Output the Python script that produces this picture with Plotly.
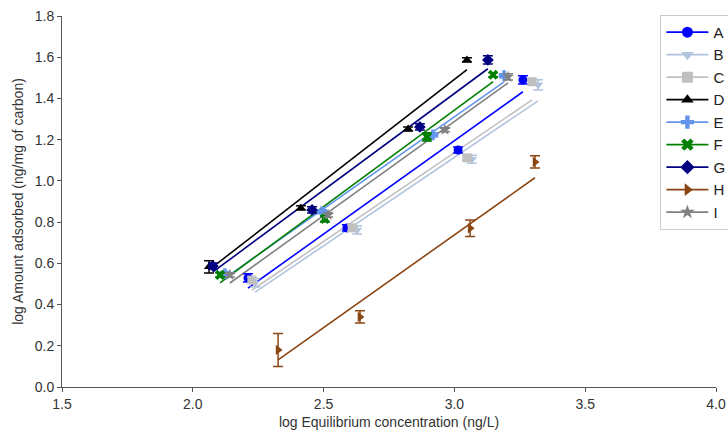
import plotly.graph_objects as go

names = ["A", "B", "C", "D", "E", "F", "G", "H", "I"]
colors = ["#0000ff", "#b0c4de", "#c0c0c0", "#000000", "#6495ed", "#008000", "#000080", "#8b4513", "#808080"]
symbols = ["circle", "triangle-down", "square", "triangle-up", "cross", "x", "diamond", "triangle-right", "star"]

x_A = [2.211, 2.589, 3.014, 3.262]; y_A = [0.529, 0.772, 1.150, 1.490]; e_A = [0.02, 0.015, 0.015, 0.02]
x_B = [2.238, 2.628, 3.067, 3.320]; y_B = [0.505, 0.762, 1.105, 1.466]; e_B = [0.02, 0.02, 0.02, 0.025]
x_C = [2.226, 2.609, 3.048, 3.297]; y_C = [0.519, 0.772, 1.112, 1.481]; e_C = [0.015, 0.015, 0.015, 0.015]
x_D = [2.062, 2.413, 2.823, 3.048]; y_D = [0.583, 0.869, 1.252, 1.587]; e_D = [0.03, 0.01, 0.01, 0.01]
x_E = [2.123, 2.494, 2.918, 3.190]; y_E = [0.550, 0.850, 1.223, 1.510]; e_E = [0.01, 0.01, 0.01, 0.01]
x_F = [2.104, 2.505, 2.895, 3.148]; y_F = [0.544, 0.816, 1.214, 1.515]; e_F = [0.01, 0.015, 0.02, 0.01]
x_G = [2.077, 2.456, 2.868, 3.128]; y_G = [0.587, 0.859, 1.262, 1.587]; e_G = [0.015, 0.015, 0.015, 0.02]
x_H = [2.326, 2.639, 3.060, 3.308]; y_H = [0.180, 0.340, 0.770, 1.092]; e_H = [0.08, 0.03, 0.04, 0.03]
x_I = [2.142, 2.517, 2.964, 3.205]; y_I = [0.544, 0.835, 1.248, 1.505]; e_I = [0.01, 0.01, 0.01, 0.015]

# fitted regression lines (slope, intercept) per series
slopes = [0.906, 0.858, 0.862, 0.985, 0.892, 0.935, 0.938, 0.900, 0.913]
intercepts = [-1.523, -1.460, -1.449, -1.463, -1.365, -1.462, -1.390, -1.962, -1.451]

xs = [x_A, x_B, x_C, x_D, x_E, x_F, x_G, x_H, x_I]
ys = [y_A, y_B, y_C, y_D, y_E, y_F, y_G, y_H, y_I]
es = [e_A, e_B, e_C, e_D, e_E, e_F, e_G, e_H, e_I]

fig = go.Figure()
for i, n in enumerate(names):
    x0, x1 = min(xs[i]), max(xs[i])
    fig.add_trace(go.Scatter(
        x=[x0, x1], y=[slopes[i] * x0 + intercepts[i], slopes[i] * x1 + intercepts[i]],
        mode="lines", line=dict(color=colors[i], width=1.6),
        showlegend=False, legendgroup=n, hoverinfo="skip"))
for i, n in enumerate(names):
    fig.add_trace(go.Scatter(
        x=xs[i], y=ys[i], mode="markers",
        marker=dict(symbol=symbols[i], color=colors[i], size=9, line=dict(width=0)),
        error_y=dict(type="data", array=es[i], color=colors[i], thickness=1.5, width=5),
        showlegend=False, legendgroup=n))
for i, n in enumerate(names):
    fig.add_trace(go.Scatter(
        x=[None], y=[None], mode="lines+markers", name=n, legendgroup=n,
        line=dict(color=colors[i], width=1.6),
        marker=dict(symbol=symbols[i], color=colors[i], size=11, line=dict(width=0))))

axis_common = dict(
    showline=True, linecolor="#555555", linewidth=1, mirror=False,
    showgrid=False, zeroline=False, ticks="outside", ticklen=4, tickcolor="#555555",
    tickfont=dict(size=14, color="#333333"),
    title_font=dict(size=14, color="#333333"))

fig.update_layout(
    width=728, height=435,
    margin=dict(l=62, r=12, t=16, b=48, autoexpand=False),
    paper_bgcolor="white", plot_bgcolor="white",
    font=dict(family="Liberation Sans, Arial, sans-serif", color="#333333"),
    xaxis=dict(range=[1.5, 4.0], dtick=0.5, tickformat=".1f",
               title=dict(text="log Equilibrium concentration (ng/L)", standoff=6), **axis_common),
    yaxis=dict(range=[0, 1.8], dtick=0.2, tickformat=".1f",
               title=dict(text="log Amount adsorbed (ng/mg of carbon)", standoff=7), **axis_common),
    legend=dict(x=0.915, y=1.003, xanchor="left", yanchor="top",
                bgcolor="white", bordercolor="#cccccc", borderwidth=1,
                font=dict(size=15, color="#222222"), itemwidth=42, tracegroupgap=0,
                maxheight=430),
)

fig.write_html("out.html")
